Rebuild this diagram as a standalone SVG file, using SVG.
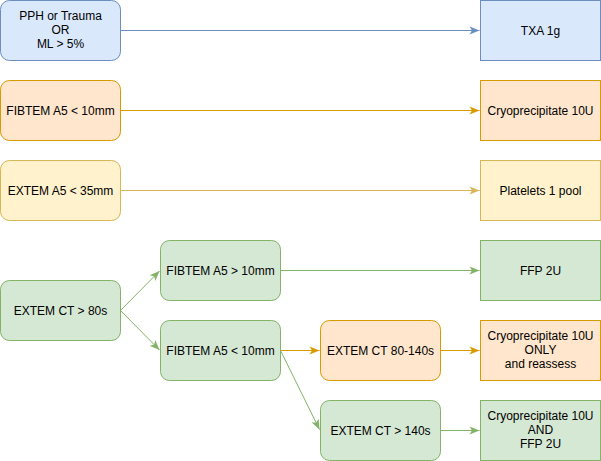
<svg xmlns="http://www.w3.org/2000/svg" width="601" height="461" viewBox="0 0 601 461">
<style>
text{font-family:"Liberation Sans",Arial,sans-serif;font-size:12px;fill:#000;text-anchor:middle}
.blue{fill:#dae8fc;stroke:#6c8ebf}
.orange{fill:#ffe6cc;stroke:#d79b00}
.yellow{fill:#fff2cc;stroke:#d6b656}
.green{fill:#d5e8d4;stroke:#82b366}
.edge{fill:none;stroke-width:1}
.eb{stroke:#6c8ebf}
.eo{stroke:#d79b00}
.ey{stroke:#d6b656}
.eg{stroke:#82b366}
</style>
<defs>
<marker id="ab" markerUnits="userSpaceOnUse" markerWidth="12" markerHeight="10" refX="10" refY="4" orient="auto" overflow="visible"><path d="M0,0 L10,4 L0,8 L2.5,4 Z" fill="#6c8ebf"/></marker>
<marker id="ao" markerUnits="userSpaceOnUse" markerWidth="12" markerHeight="10" refX="10" refY="4" orient="auto" overflow="visible"><path d="M0,0 L10,4 L0,8 L2.5,4 Z" fill="#d79b00"/></marker>
<marker id="ay" markerUnits="userSpaceOnUse" markerWidth="12" markerHeight="10" refX="10" refY="4" orient="auto" overflow="visible"><path d="M0,0 L10,4 L0,8 L2.5,4 Z" fill="#d6b656"/></marker>
<marker id="ag" markerUnits="userSpaceOnUse" markerWidth="12" markerHeight="10" refX="10" refY="4" orient="auto" overflow="visible"><path d="M0,0 L10,4 L0,8 L2.5,4 Z" fill="#82b366"/></marker>
</defs>
<rect width="601" height="461" fill="#fff"/>
<g id="connectors">
<path class="edge eb" d="M120.5,30.5 L479.5,30.5" marker-end="url(#ab)"/>
<path class="edge eo" d="M120.5,110.5 L479.5,110.5" marker-end="url(#ao)"/>
<path class="edge ey" d="M120.5,190.5 L479.5,190.5" marker-end="url(#ay)"/>
<path class="edge eg" d="M120.5,310.5 L159.5,271" marker-end="url(#ag)"/>
<path class="edge eg" d="M120.5,310.5 L159.5,350" marker-end="url(#ag)"/>
<path class="edge eg" d="M280.5,270.5 L479.5,270.5" marker-end="url(#ag)"/>
<path class="edge eo" d="M280.5,350.5 L319.5,350.5" marker-end="url(#ao)"/>
<path class="edge eg" d="M280.5,350.5 L319.5,429.5" marker-end="url(#ag)"/>
<path class="edge eo" d="M440.5,350.5 L479.5,350.5" marker-end="url(#ao)"/>
<path class="edge eg" d="M440.5,430.5 L479.5,430.5" marker-end="url(#ag)"/>
</g>
<g id="n-pph"><rect class="blue" x="0.5" y="0.5" width="120" height="60" rx="9"/><text x="60.5" y="20">PPH or Trauma</text><text x="60.5" y="34">OR</text><text x="60.5" y="48">ML &gt; 5%</text></g>
<g id="n-txa"><rect class="blue" x="480.5" y="0.5" width="120" height="60"/><text x="540.5" y="34.5">TXA 1g</text></g>
<g id="n-fib1"><rect class="orange" x="0.5" y="80.5" width="120" height="60" rx="9"/><text x="60.5" y="114.5">FIBTEM A5 &lt; 10mm</text></g>
<g id="n-cryo1"><rect class="orange" x="480.5" y="80.5" width="120" height="60"/><text x="540.5" y="114.5">Cryoprecipitate 10U</text></g>
<g id="n-extA5"><rect class="yellow" x="0.5" y="160.5" width="120" height="60" rx="9"/><text x="60.5" y="194.5">EXTEM A5 &lt; 35mm</text></g>
<g id="n-plt"><rect class="yellow" x="480.5" y="160.5" width="120" height="60"/><text x="540.5" y="194.5">Platelets 1 pool</text></g>
<g id="n-extCT"><rect class="green" x="0.5" y="280.5" width="120" height="60" rx="9"/><text x="60.5" y="314.5">EXTEM CT &gt; 80s</text></g>
<g id="n-fibGT"><rect class="green" x="160.5" y="240.5" width="120" height="60" rx="9"/><text x="220.5" y="274.5">FIBTEM A5 &gt; 10mm</text></g>
<g id="n-fibLT"><rect class="green" x="160.5" y="320.5" width="120" height="60" rx="9"/><text x="220.5" y="354.5">FIBTEM A5 &lt; 10mm</text></g>
<g id="n-ct80"><rect class="orange" x="320.5" y="320.5" width="120" height="60" rx="9"/><text x="380.5" y="354.5">EXTEM CT 80-140s</text></g>
<g id="n-ct140"><rect class="green" x="320.5" y="400.5" width="120" height="60" rx="9"/><text x="380.5" y="434.5">EXTEM CT &gt; 140s</text></g>
<g id="n-ffp"><rect class="green" x="480.5" y="240.5" width="120" height="60"/><text x="540.5" y="274.5">FFP 2U</text></g>
<g id="n-cryoOnly"><rect class="orange" x="480.5" y="320.5" width="120" height="60"/><text x="540.5" y="340">Cryoprecipitate 10U</text><text x="540.5" y="354">ONLY</text><text x="540.5" y="368">and reassess</text></g>
<g id="n-cryoFfp"><rect class="green" x="480.5" y="400.5" width="120" height="60"/><text x="540.5" y="420">Cryoprecipitate 10U</text><text x="540.5" y="434">AND</text><text x="540.5" y="448">FFP 2U</text></g>
</svg>
